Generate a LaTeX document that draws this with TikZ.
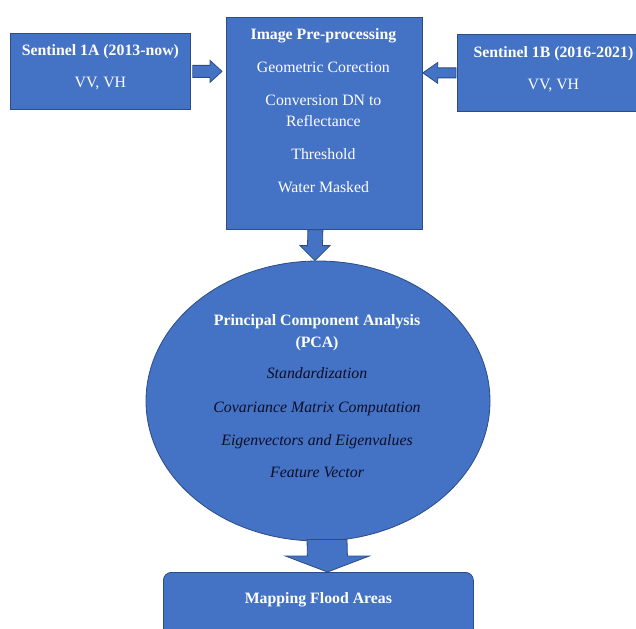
\documentclass[tikz,border=0pt]{standalone}
\usepackage{fontspec}
\setmainfont{Liberation Serif}
\usetikzlibrary{shapes.geometric,calc}
\definecolor{boxfill}{RGB}{68,114,196}
\definecolor{boxline}{RGB}{44,76,134}
\definecolor{darktext}{RGB}{14,14,40}
\begin{document}
\begin{tikzpicture}[x=1pt,y=-1pt,
  blockbox/.style={draw=boxline, fill=boxfill, line width=0.8pt, inner sep=0pt},
  blocktext/.style={text=white, align=center, inner sep=0pt, anchor=north,
    font=\fontsize{15.8}{21}\selectfont},
  pcatext/.style={align=center, inner sep=0pt, anchor=north,
    font=\fontsize{15.8}{22}\selectfont},
  blockarrow/.style={draw=boxline, fill=boxfill, line width=0.8pt, line join=miter}
]
\useasboundingbox (0,0) rectangle (636,628);
\clip (0,0) rectangle (636,628);

% ---- boxes ----
\node[blockbox, anchor=north west, minimum width=180pt, minimum height=76pt] (s1a) at (10,33) {};
\node[blockbox, anchor=north west, minimum width=196pt, minimum height=212pt] (pre) at (226,17) {};
\node[blockbox, anchor=north west, minimum width=192pt, minimum height=77pt] (s1b) at (457,34) {};
\node[blockbox, ellipse, minimum width=344pt, minimum height=280pt] (pca) at (318,401) {};
\node[blockbox, rounded corners=8pt, anchor=north west, minimum width=310pt, minimum height=70pt] (map) at (163,572) {};

% ---- texts ----
\node[blocktext] (s1atxt) at ($(s1a.north)+(0,11.5)$)
  {\textbf{Sentinel 1A (2013-now)}\\[11pt] VV, VH};
\node[blocktext] (pretxt) at ($(pre.north)+(-1,11.5)$)
  {\textbf{Image Pre-processing}\\[12pt]
   Geometric Corection\\[12pt]
   Conversion DN to\\ Reflectance\\[12pt]
   Threshold\\[12pt]
   Water Masked};
\node[blocktext] (s1btxt) at ($(s1b.north)+(0,12.5)$)
  {\textbf{Sentinel 1B (2016-2021)}\\[11pt] VV, VH};
\node[pcatext] (pcatxt) at ($(pca.center)+(-1,-86.5)$)
  {\textcolor{white}{\textbf{Principal Component Analysis}}\\
   \textcolor{white}{\textbf{(PCA)}}\\[9pt]
   \color{darktext}\itshape Standardization\\[12pt]
   \color{darktext}\itshape Covariance Matrix Computation\\[11pt]
   \color{darktext}\itshape Eigenvectors and Eigenvalues\\[10pt]
   \color{darktext}\itshape Feature Vector};
\node[blocktext] (maptxt) at ($(map.north)+(0,20.5)$) {\textbf{Mapping Flood Areas}};

% ---- block arrows ----
% Sentinel 1A -> pre-processing
\coordinate (a1s) at ($(s1a.east)+(2,0)$);
\coordinate (a1e) at ($(pre.west |- s1a.east)+(-4,0)$);
\draw[blockarrow] ($(a1s)+(0,-6)$) -- ($(a1e)+(-12,-6)$) -- ($(a1e)+(-12,-11)$) -- (a1e)
  -- ($(a1e)+(-12,11)$) -- ($(a1e)+(-12,6)$) -- ($(a1s)+(0,6)$) -- cycle;
% Sentinel 1B -> pre-processing
\coordinate (a2s) at ($(s1b.west)+(-1,0)$);
\coordinate (a2e) at ($(pre.east |- s1b.west)$);
\draw[blockarrow] ($(a2s)+(0,-5)$) -- ($(a2e)+(15,-5)$) -- ($(a2e)+(15,-10.5)$) -- (a2e)
  -- ($(a2e)+(15,10.5)$) -- ($(a2e)+(15,5)$) -- ($(a2s)+(0,5)$) -- cycle;
% pre-processing -> PCA
\coordinate (a3s) at ($(pre.south)+(-9,0)$);
\coordinate (a3e) at ($(pca.north)+(-3,0)$);
\draw[blockarrow] ($(a3s)+(-7.5,0)$) -- ($(a3e)+(-7.5,-15)$) -- ($(a3e)+(-15,-15)$) -- (a3e)
  -- ($(a3e)+(15,-15)$) -- ($(a3e)+(7.5,-15)$) -- ($(a3s)+(7.5,0)$) -- cycle;
% PCA -> mapping
\coordinate (a4s) at ($(pca.south)+(9,0)$);
\coordinate (a4e) at ($(map.north)+(9,0)$);
\draw[blockarrow] ($(a4s)+(-20,-2)$) -- ($(a4e)+(-20,-16)$) -- ($(a4e)+(-42,-16)$) -- (a4e)
  -- ($(a4e)+(42,-16)$) -- ($(a4e)+(20,-16)$) -- ($(a4s)+(20,-2)$) -- cycle;
\end{tikzpicture}
\end{document}
